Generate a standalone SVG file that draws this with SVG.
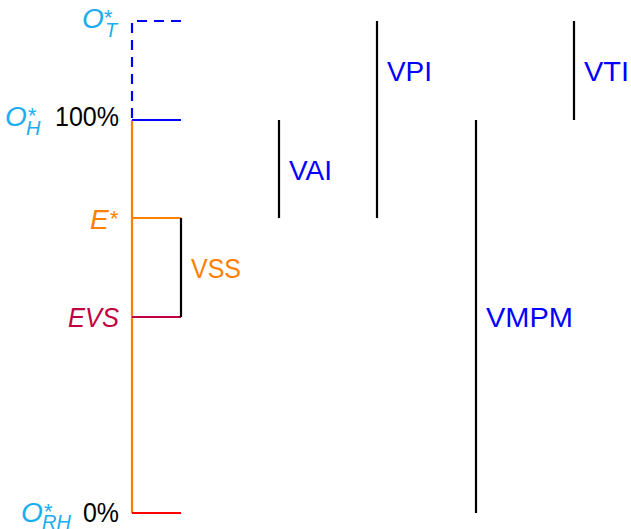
<svg xmlns="http://www.w3.org/2000/svg" width="631" height="529" viewBox="0 0 631 529">
<style>
.ln{fill:none;stroke-width:2.2;stroke-linecap:butt}
.k{stroke:#000}
.lbl{font-family:"Liberation Sans",Arial,sans-serif;font-size:28px}
.it{font-style:italic}
.sub{font-size:20px}
.sup{font-size:22px}
.cy{fill:#1aadef}
.bl{fill:#0000ff}
.or{fill:#ff8000}
.pu{fill:#bf0040}
</style>
<g id="connectors">
<path class="ln" stroke="#0000ff" stroke-dasharray="10 7" d="M181,21 H132 V120"/>
<path class="ln" stroke="#ff8000" d="M132,120 V513"/>
<path class="ln" stroke="#0000ff" d="M132,120 H181"/>
<path class="ln" stroke="#ff8000" d="M132,218 H181"/>
<path class="ln" stroke="#bf0040" d="M132,317 H181"/>
<path class="ln" stroke="#ff0000" d="M132,513 H181"/>
<path class="ln k" d="M181,218 V317"/>
<path class="ln k" d="M279,120 V218"/>
<path class="ln k" d="M377,21 V218"/>
<path class="ln k" d="M476,120 V513"/>
<path class="ln k" d="M574,21 V120"/>
</g>
<g id="OT">
<text class="lbl it cy" x="82" y="28">O<tspan class="sup" x="103" y="25">*</tspan><tspan class="sub" x="105" y="37">T</tspan></text>
</g>
<g id="OH">
<text class="lbl it cy" x="5" y="126">O<tspan class="sup" x="27" y="123">*</tspan><tspan class="sub" x="26" y="135">H</tspan></text>
<text class="lbl" x="55" y="126" textLength="64" lengthAdjust="spacingAndGlyphs">100%</text>
</g>
<g id="Estar">
<text class="lbl it or" x="90" y="229">E<tspan class="sup" x="109" y="226">*</tspan></text>
</g>
<g id="EVS">
<text class="lbl it pu" x="68" y="327" textLength="51" lengthAdjust="spacingAndGlyphs">EVS</text>
</g>
<g id="ORH">
<text class="lbl it cy" x="21" y="522">O<tspan class="sup" x="43" y="519">*</tspan><tspan class="sub" x="42" y="529">RH</tspan></text>
<text class="lbl" x="83" y="522" textLength="36" lengthAdjust="spacingAndGlyphs">0%</text>
</g>
<g id="VSS"><text class="lbl or" x="191" y="278" textLength="50" lengthAdjust="spacingAndGlyphs">VSS</text></g>
<g id="VAI"><text class="lbl bl" x="289" y="180" textLength="43" lengthAdjust="spacingAndGlyphs">VAI</text></g>
<g id="VPI"><text class="lbl bl" x="387" y="81" textLength="45" lengthAdjust="spacingAndGlyphs">VPI</text></g>
<g id="VTI"><text class="lbl bl" x="584" y="81" textLength="45" lengthAdjust="spacingAndGlyphs">VTI</text></g>
<g id="VMPM"><text class="lbl bl" x="486" y="327" textLength="87" lengthAdjust="spacingAndGlyphs">VMPM</text></g>
</svg>
